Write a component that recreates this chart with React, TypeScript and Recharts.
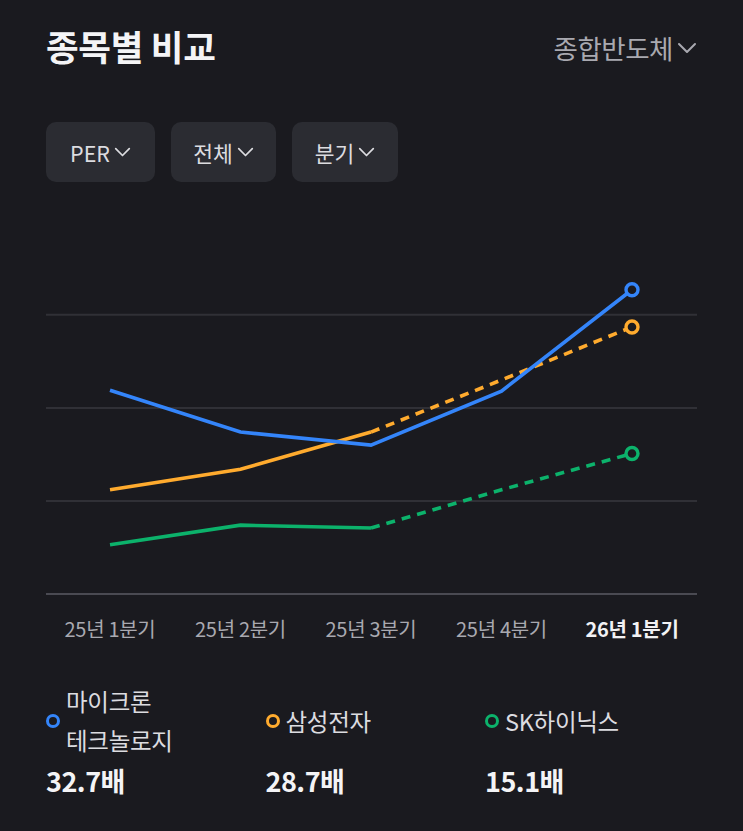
import React from "react";
import { LineChart, Line, XAxis, YAxis, CartesianGrid } from "recharts";

const quarters = ["25년 1분기", "25년 2분기", "25년 3분기", "25년 4분기", "26년 1분기"];
const micronPer = [21.9, 17.4, 16.0, 21.8, 32.7];
const samsungPer = [11.2, 13.4, 17.4, 23.0, 28.7];
const hynixPer = [5.3, 7.4, 7.1, 11.2, 15.1];
const yTicks = [0, 10, 20, 30];
const lastActual = 2; // 25년 3분기까지 실적, 이후 추정치(점선)

const BG = "#1a1a1f";
const BLUE = "#3485fa";
const ORANGE = "#ffab2e";
const GREEN = "#0cb26b";
const FONT = "'Noto Sans CJK KR', 'Noto Sans', sans-serif";

const data = quarters.map((q, i) => ({
  name: q,
  micron: micronPer[i],
  samsung: i <= lastActual ? samsungPer[i] : null,
  samsungEst: i >= lastActual ? samsungPer[i] : null,
  hynix: i <= lastActual ? hynixPer[i] : null,
  hynixEst: i >= lastActual ? hynixPer[i] : null,
}));

const lastIndex = quarters.length - 1;

const endDot = (color: string) => (props: any) => {
  const { cx, cy, index } = props;
  if (index !== lastIndex || cx == null || cy == null) return <g key={`d-${index}`} />;
  return (
    <circle key={`d-${index}`} cx={cx} cy={cy} r={6} fill={BG} stroke={color} strokeWidth={3.4} />
  );
};

const Chevron = ({ size = 14, color = "#ddd" }: { size?: number; color?: string }) => (
  <svg width={size} height={size * 0.6} viewBox="0 0 20 12" style={{ marginLeft: 4 }}>
    <polyline points="2,2 10,10 18,2" fill="none" stroke={color} strokeWidth={2} strokeLinecap="round" strokeLinejoin="round" />
  </svg>
);

const XTick = (props: any) => {
  const { x, y, payload, index } = props;
  const isLast = index === lastIndex;
  return (
    <text
      x={x}
      y={y}
      dy={35}
      textAnchor="middle"
      fontSize={20}
      fontFamily={FONT}
      fontWeight={isLast ? 700 : 400}
      fill={isLast ? "#f2f2f4" : "#a9a9b0"}
      letterSpacing={-0.3}
    >
      {payload.value}
    </text>
  );
};

const Filter = ({ label, width }: { label: string; width: number }) => (
  <div
    style={{
      width,
      height: 60,
      borderRadius: 10,
      background: "#2b2c32",
      display: "flex",
      alignItems: "center",
      justifyContent: "center",
      color: "#dcdce0",
      fontSize: 21.5,
    }}
  >
    {label}
    <Chevron size={17} color="#dcdce0" />
  </div>
);

const legendItems = [
  { names: ["마이크론", "테크놀로지"], color: BLUE, value: micronPer[lastIndex] },
  { names: ["삼성전자"], color: ORANGE, value: samsungPer[lastIndex] },
  { names: ["SK하이닉스"], color: GREEN, value: hynixPer[lastIndex] },
];

export default function App() {
  return (
    <div
      style={{
        position: "absolute",
        left: 0,
        top: 0,
        width: 743,
        height: 831,
        background: BG,
        fontFamily: FONT,
        overflow: "hidden",
      }}
    >
      <div style={{ position: "absolute", left: 46, top: 20, color: "#f4f4f6", fontSize: 35.5, fontWeight: 700, letterSpacing: -0.3 }}>
        종목별 비교
      </div>
      <div
        style={{
          position: "absolute",
          right: 46,
          top: 28,
          color: "#a9a9b0",
          fontSize: 26.5,
          display: "flex",
          alignItems: "center",
          letterSpacing: -0.5,
        }}
      >
        종합반도체
        <Chevron size={20} color="#a9a9b0" />
      </div>

      <div style={{ position: "absolute", left: 46, top: 122, display: "flex", gap: 16 }}>
        <Filter label="PER" width={109} />
        <Filter label="전체" width={105} />
        <Filter label="분기" width={106} />
      </div>

      <div style={{ position: "absolute", left: 0, top: 249 }}>
        <LineChart
          width={743}
          height={420}
          data={data}
          margin={{ top: 10, right: 46, bottom: 0, left: 46 }}
        >
          <CartesianGrid vertical={false} stroke="#303036" strokeWidth={2} horizontalValues={yTicks} />
          <XAxis
            dataKey="name"
            padding={{ left: 64, right: 65 }}
            axisLine={{ stroke: "#4a4a52", strokeWidth: 2 }}
            tickLine={false}
            tick={<XTick />}
            interval={0}
            height={75}
          />
          <YAxis hide domain={[0, 36]} ticks={yTicks} />
          <Line
            dataKey="hynix"
            stroke={GREEN}
            strokeWidth={3.6}
            dot={false}
            activeDot={false}
            isAnimationActive={false}
          />
          <Line
            dataKey="hynixEst"
            stroke={GREEN}
            strokeWidth={3.6}
            strokeDasharray="9 7"
            dot={endDot(GREEN)}
            activeDot={false}
            isAnimationActive={false}
          />
          <Line
            dataKey="samsung"
            stroke={ORANGE}
            strokeWidth={3.6}
            dot={false}
            activeDot={false}
            isAnimationActive={false}
          />
          <Line
            dataKey="samsungEst"
            stroke={ORANGE}
            strokeWidth={3.6}
            strokeDasharray="9 7"
            dot={endDot(ORANGE)}
            activeDot={false}
            isAnimationActive={false}
          />
          <Line
            dataKey="micron"
            stroke={BLUE}
            strokeWidth={3.6}
            dot={endDot(BLUE)}
            activeDot={false}
            isAnimationActive={false}
          />
        </LineChart>
      </div>

      {legendItems.map((item, i) => (
        <div key={item.names[0]} style={{ position: "absolute", left: 46 + i * 219.5, top: 682, width: 215 }}>
          <div style={{ display: "flex", alignItems: "center", height: 78 }}>
            <div
              style={{
                width: 8,
                height: 8,
                borderRadius: "50%",
                border: `3px solid ${item.color}`,
                marginRight: 6,
                flexShrink: 0,
              }}
            />
            <div style={{ color: "#dcdce0", fontSize: 23.5, lineHeight: "39px", letterSpacing: -0.3 }}>
              {item.names.map((n) => (
                <div key={n}>{n}</div>
              ))}
            </div>
          </div>
          <div style={{ color: "#f4f4f6", fontSize: 27, fontWeight: 700, marginTop: 1, letterSpacing: -0.5 }}>
            {item.value.toFixed(1)}배
          </div>
        </div>
      ))}
    </div>
  );
}
